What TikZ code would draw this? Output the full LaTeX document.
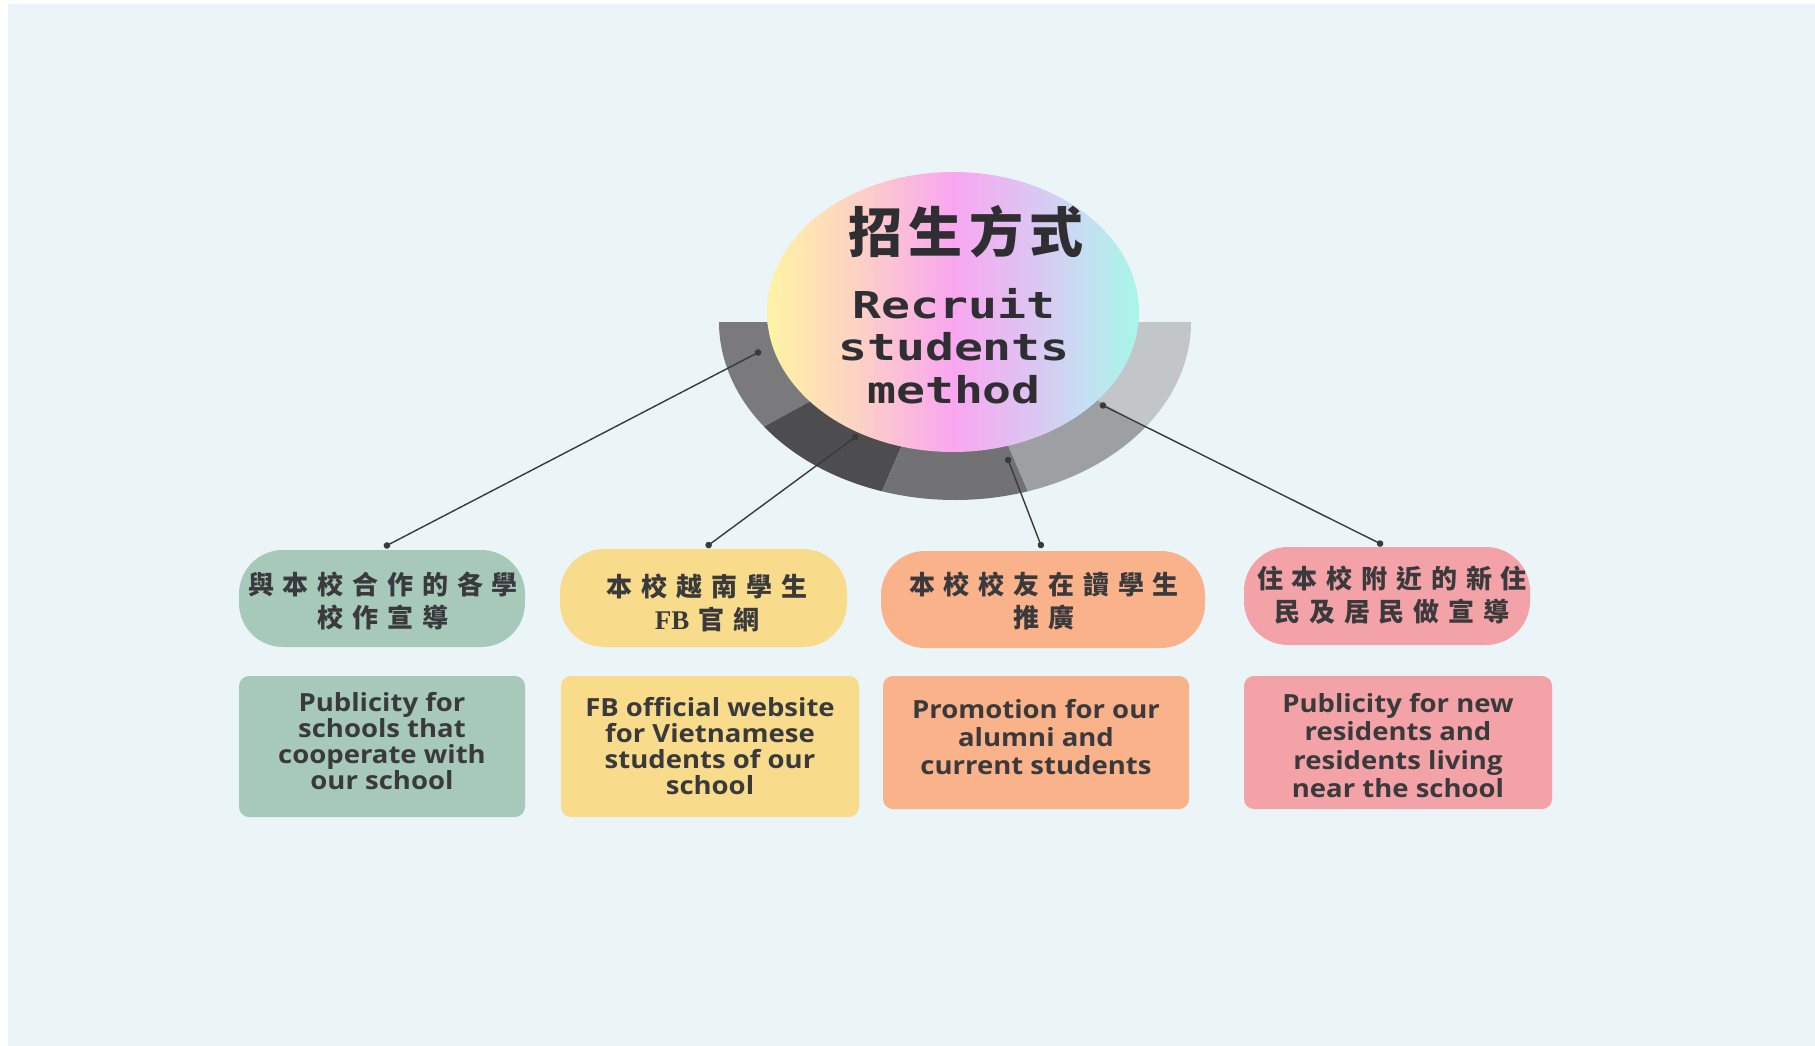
\documentclass[tikz,border=0pt]{standalone}
\usepackage{fontspec}
\usetikzlibrary{arrows.meta}
\newfontfamily\cjkpill{Noto Sans CJK TC}[LetterSpace=34]
\newfontfamily\cjktitle{Noto Sans CJK TC}[LetterSpace=12]
\newfontfamily\monotitle{DejaVu Sans Mono}[FakeStretch=1.3]
\newfontfamily\engfont{Open Sans}[FakeStretch=1.1]
\newfontfamily\fbfont{Liberation Serif}
\definecolor{bgc}{HTML}{EBF4F6}
\definecolor{segA}{HTML}{7A7A7D}
\definecolor{segB}{HTML}{4D4D50}
\definecolor{segC}{HTML}{727275}
\definecolor{segD}{HTML}{9D9FA2}
\definecolor{segE}{HTML}{C3C6C8}
\definecolor{cyel}{HTML}{FFF3A4}
\definecolor{cpeach}{HTML}{FCD2C4}
\definecolor{cpink}{HTML}{F9A6F0}
\definecolor{clav}{HTML}{DCC6F2}
\definecolor{cblue}{HTML}{C4E0F2}
\definecolor{ccyan}{HTML}{A6F7E8}
\definecolor{cgreen}{HTML}{A6C9BA}
\definecolor{cyellow}{HTML}{F8DC8C}
\definecolor{corange}{HTML}{F9B28A}
\definecolor{cpinkbox}{HTML}{F3A3A7}
\definecolor{tdark}{HTML}{3A3A3C}
\definecolor{tcirc}{HTML}{2F2F33}
\definecolor{lcol}{HTML}{3A3A3A}
\pgfdeclarehorizontalshading{pastel}{100bp}{color(0bp)=(cyel); color(25bp)=(cyel); color(37bp)=(cpeach); color(50bp)=(cpink); color(61bp)=(clav); color(68bp)=(cblue); color(75bp)=(ccyan); color(100bp)=(ccyan)}
\begin{document}
\begin{tikzpicture}[x=1pt,y=-1pt,
  pillshape/.style={rounded corners=44pt, inner sep=0pt},
  pilltext/.style={inner sep=0pt, align=center, text=tdark,
    font=\cjkpill\bfseries\fontsize{26}{33}\selectfont},
  boxshape/.style={rounded corners=10pt, inner sep=0pt},
  boxtext/.style={inner sep=0pt, align=center, text=tdark,
    font=\engfont\bfseries\fontsize{25}{26}\selectfont},
  conn/.style={draw=lcol, line width=1.4pt, {Circle[length=6.5pt]}-{Circle[length=6.5pt]}}
]
\useasboundingbox (0,0) rectangle (1815,1046);
\fill[white] (0,0) rectangle (1815,1046);
\fill[bgc] (8,4) rectangle (1815,1046);
% ring
\coordinate (rc) at (955,322);
\fill[segA] (rc) -- ([shift={(180:236pt and 178pt)}]rc) arc[start angle=180,end angle=216,x radius=236pt,y radius=178pt] -- cycle;
\fill[segB] (rc) -- ([shift={(216:236pt and 178pt)}]rc) arc[start angle=216,end angle=252,x radius=236pt,y radius=178pt] -- cycle;
\fill[segC] (rc) -- ([shift={(252:236pt and 178pt)}]rc) arc[start angle=252,end angle=288,x radius=236pt,y radius=178pt] -- cycle;
\fill[segD] (rc) -- ([shift={(288:236pt and 178pt)}]rc) arc[start angle=288,end angle=324,x radius=236pt,y radius=178pt] -- cycle;
\fill[segE] (rc) -- ([shift={(324:236pt and 178pt)}]rc) arc[start angle=324,end angle=360,x radius=236pt,y radius=178pt] -- cycle;
% central circle
\shade[shading=pastel] (953,312) ellipse [x radius=186pt, y radius=140pt];
\node[font=\cjktitle\bfseries\fontsize{54}{54}\selectfont, text=tcirc, inner sep=0pt] (title) at (966,232) {招生方式};
\node[font=\monotitle\bfseries\fontsize{37}{42.5}\selectfont, text=tcirc, align=center, inner sep=0pt] (sub) at (954,346) {Recruit\\students\\method};
% pills
\node[pillshape, fill=cgreen, minimum width=286, minimum height=97] (p1) at (382,598.5) {};
\node[pillshape, fill=cyellow, minimum width=287, minimum height=98] (p2) at (703.5,598) {};
\node[pillshape, fill=corange, minimum width=324, minimum height=97] (p3) at (1043,599.5) {};
\node[pillshape, fill=cpinkbox, minimum width=286, minimum height=98] (p4) at (1387,596) {};
\node[pilltext] (p1t) at (383,601) {與本校合作的各學\\校作宣導};
\node[pilltext] (p2t) at (707,603) {本校越南學生\\{\fbfont\bfseries\fontsize{27}{33}\selectfont FB}\hspace{9pt}官網};
\node[pilltext] (p3t) at (1044,601) {本校校友在讀學生\\推廣};
\node[pilltext] (p4t) at (1392,595.5) {住本校附近的新住\\民及居民做宣導};
% text boxes
\node[boxshape, fill=cgreen, minimum width=286, minimum height=141] (t1) at (382,746.5) {};
\node[boxshape, fill=cyellow, minimum width=298, minimum height=141] (t2) at (710,746.5) {};
\node[boxshape, fill=corange, minimum width=306, minimum height=133] (t3) at (1036,742.5) {};
\node[boxshape, fill=cpinkbox, minimum width=308, minimum height=133] (t4) at (1398,742.5) {};
\node[boxtext] (t1t) at (382,741) {Publicity for\\schools that\\cooperate with\\our school};
\node[boxtext] (t2t) at (710,746.5) {FB official website\\for Vietnamese\\students of our\\school};
\node[boxtext, font=\engfont\bfseries\fontsize{25}{28}\selectfont] (t3t) at (1036,737) {Promotion for our\\alumni and\\current students};
\node[boxtext, font=\engfont\bfseries\fontsize{25}{28.6}\selectfont] (t4t) at (1398,745.5) {Publicity for new\\residents and\\residents living\\near the school};
% connectors
\coordinate (r1) at (761,351);
\coordinate (r2) at (858,435);
\coordinate (r3) at (1007,457);
\coordinate (r4) at (1100,404);
\coordinate (e1) at (384,547);
\coordinate (e2) at (706,547);
\coordinate (e3) at (1042,548);
\coordinate (e4) at (1383,545);
\draw[conn] (r1) -- (e1);
\draw[conn] (r2) -- (e2);
\draw[conn] (r3) -- (e3);
\draw[conn] (r4) -- (e4);
\end{tikzpicture}
\end{document}
